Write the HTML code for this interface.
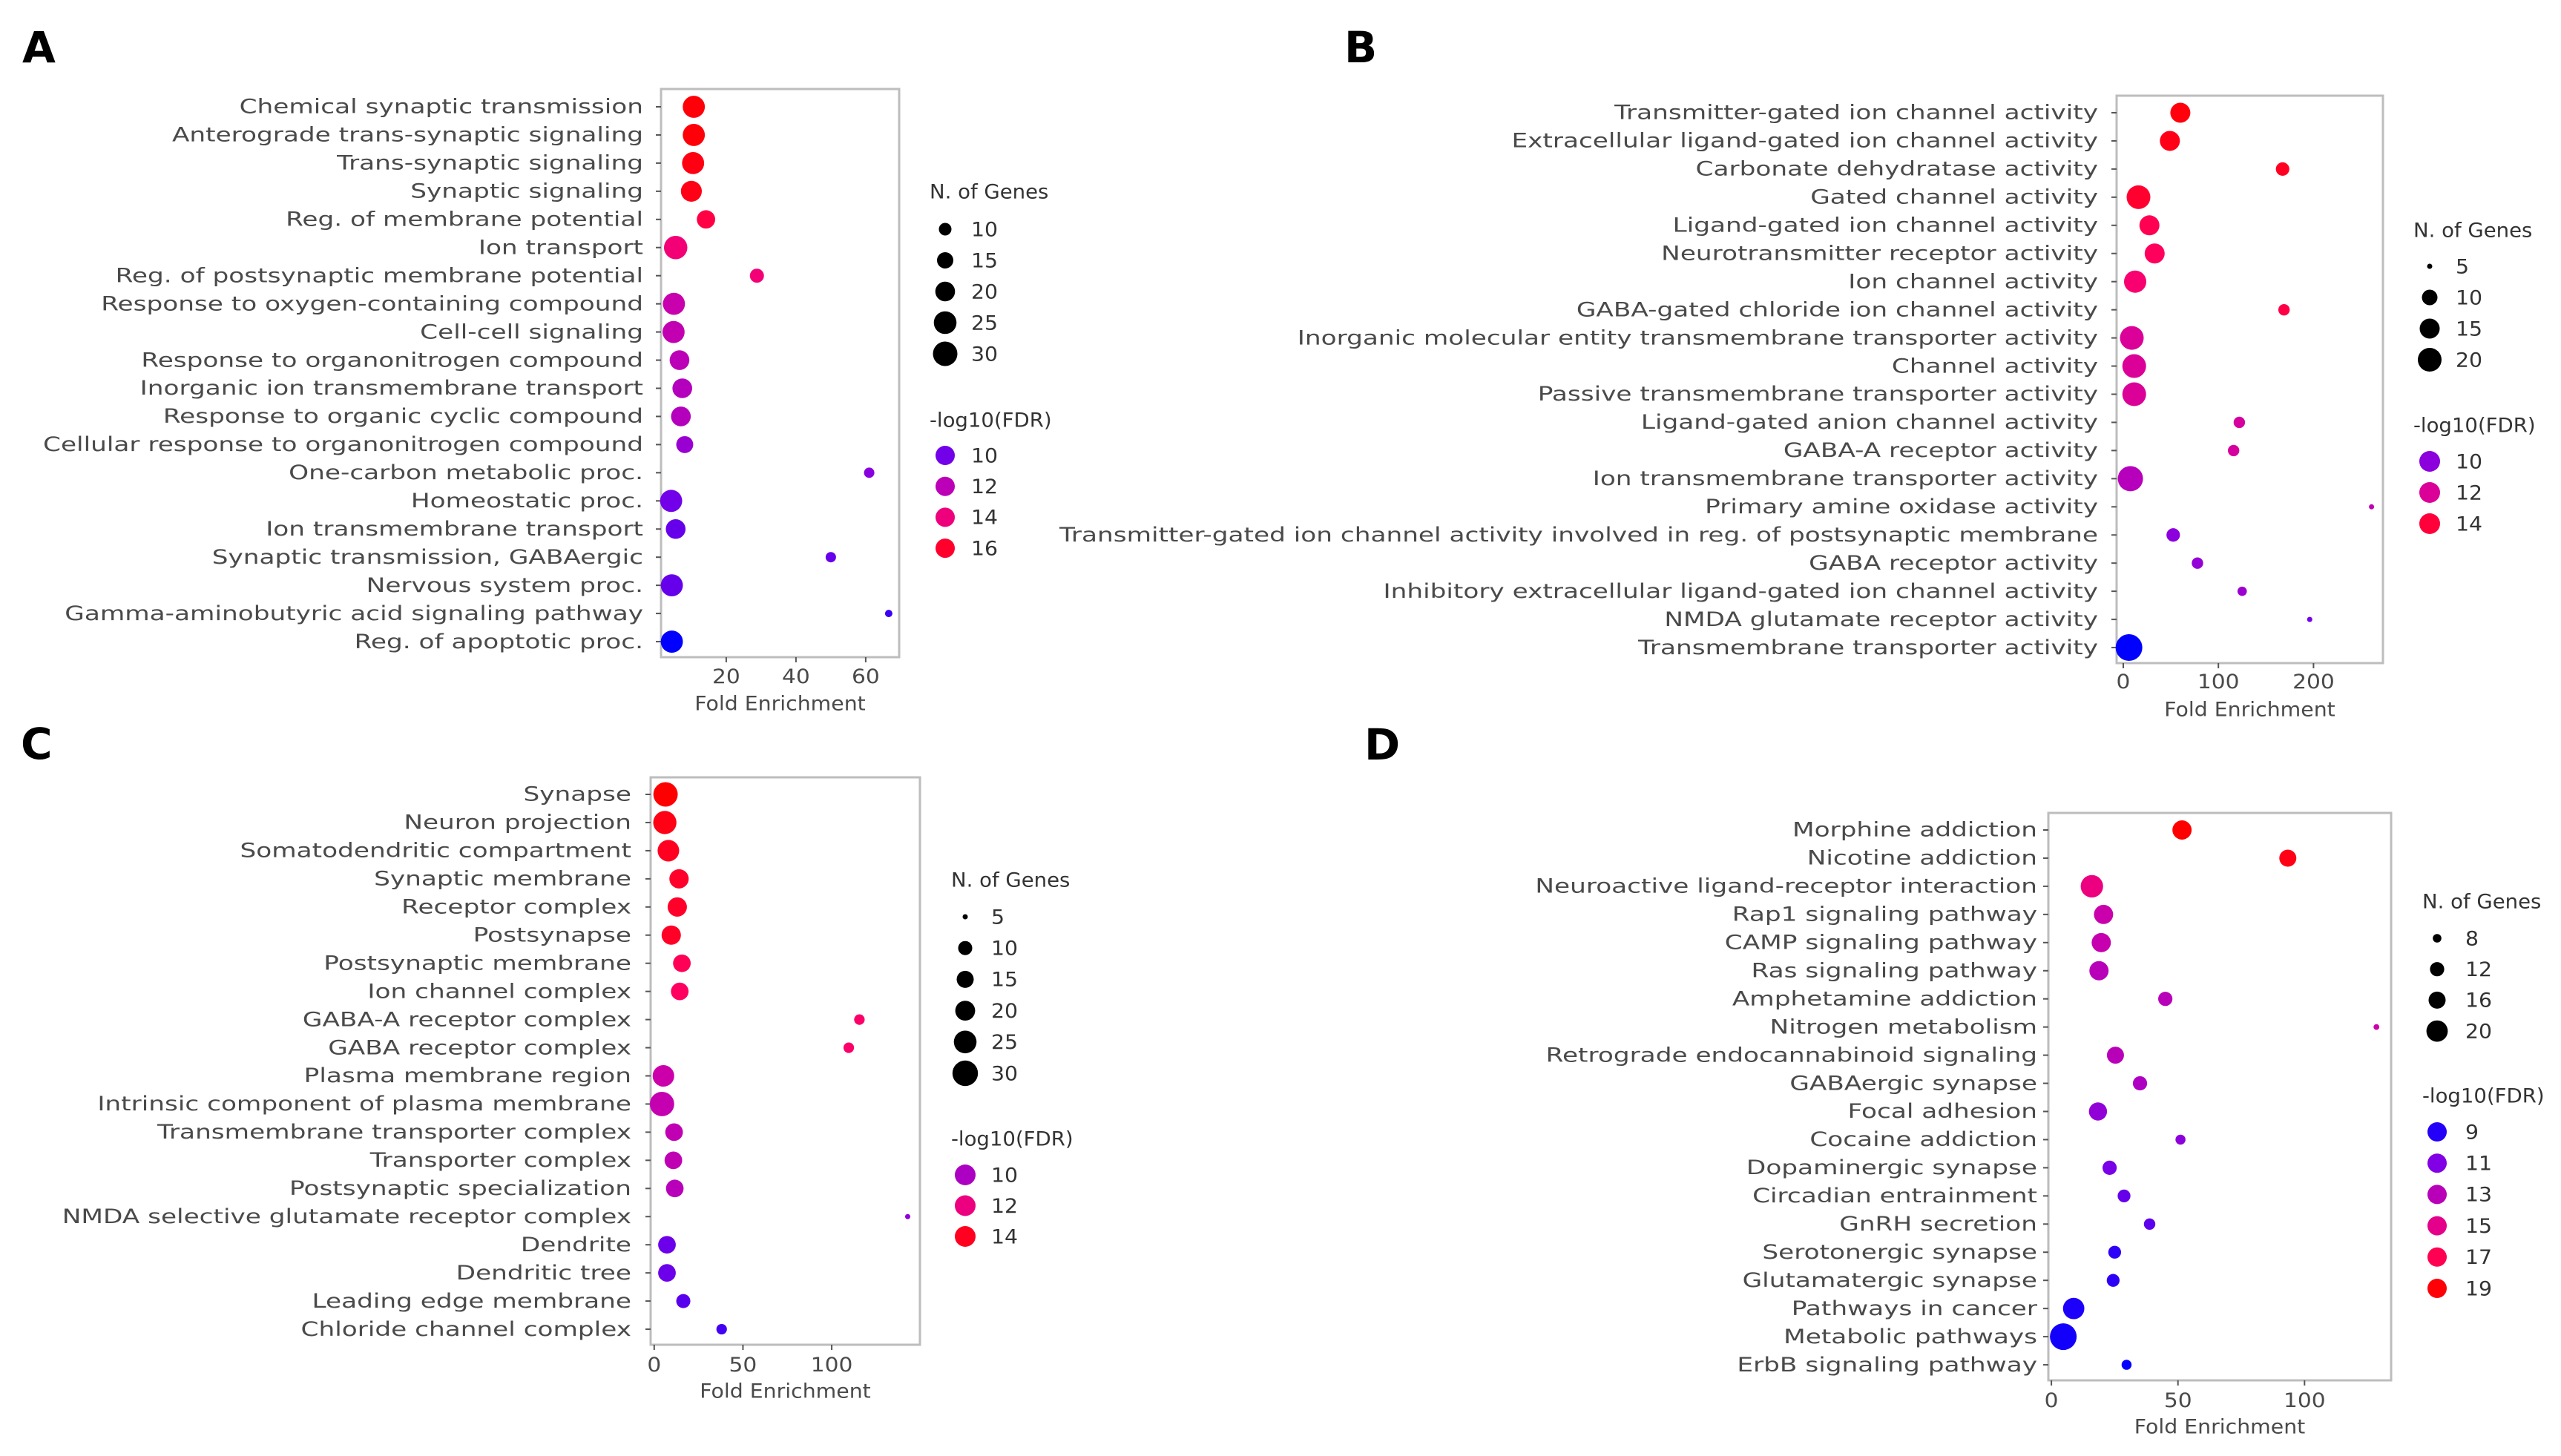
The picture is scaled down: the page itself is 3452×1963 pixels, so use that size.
<!DOCTYPE html>
<html><head><meta charset="utf-8"><style>
html,body{margin:0;padding:0;background:#fff;}
svg{display:block;}
text{font-family:"DejaVu Sans","Liberation Sans",sans-serif;}
</style></head><body>
<svg id="fig" width="3452" height="1963" viewBox="0 0 3452 1963" xmlns="http://www.w3.org/2000/svg"></svg>
<script>
// ---------- Panel A data ----------
const catsA = ["Chemical synaptic transmission","Anterograde trans-synaptic signaling","Trans-synaptic signaling","Synaptic signaling","Reg. of membrane potential","Ion transport","Reg. of postsynaptic membrane potential","Response to oxygen-containing compound","Cell-cell signaling","Response to organonitrogen compound","Inorganic ion transmembrane transport","Response to organic cyclic compound","Cellular response to organonitrogen compound","One-carbon metabolic proc.","Homeostatic proc.","Ion transmembrane transport","Synaptic transmission, GABAergic","Nervous system proc.","Gamma-aminobutyric acid signaling pathway","Reg. of apoptotic proc."];
const feA = [10.7,10.7,10.5,10,14.2,5.5,28.8,5,4.9,6.6,7.4,7,8.1,61,4.2,5.5,50,4.4,66.6,4.4];
const genesA = [24,24,24,22,18,27,12,24,24,20,20,20,16,7,24,20,7,24,3,24];
const fdrA = [16.8,16.8,16.6,16.5,15.5,14.2,14.2,12.4,12.2,12,11.8,11.8,11,10.5,10,9.8,9.8,9.8,9,8];
const xticksA = [20,40,60];
const sizeLegA = [10,15,20,25,30];
const colorLegA = [10,12,14,16];
// ---------- Panel B data ----------
const catsB = ["Transmitter-gated ion channel activity","Extracellular ligand-gated ion channel activity","Carbonate dehydratase activity","Gated channel activity","Ligand-gated ion channel activity","Neurotransmitter receptor activity","Ion channel activity","GABA-gated chloride ion channel activity","Inorganic molecular entity transmembrane transporter activity","Channel activity","Passive transmembrane transporter activity","Ligand-gated anion channel activity","GABA-A receptor activity","Ion transmembrane transporter activity","Primary amine oxidase activity","Transmitter-gated ion channel activity involved in reg. of postsynaptic membrane","GABA receptor activity","Inhibitory extracellular ligand-gated ion channel activity","NMDA glutamate receptor activity","Transmembrane transporter activity"];
const feB = [60,49,167.5,16,27.5,33,12.5,169,9,11.5,11.5,122,116,7.5,261,52.5,78,125,196,6];
const genesB = [15,15,9,20,15,15,18,8,20,20,20,8,8,22,5,9,8,7,5,24];
const fdrB = [14.8,14.6,14.4,14.2,13.6,13.4,13,13.8,12,12,12,11.8,11.8,11,11.2,10,10.2,10.4,9.6,8];
const xticksB = [0,100,200];
const sizeLegB = [5,10,15,20];
const colorLegB = [10,12,14];
// ---------- Panel C data ----------
const catsC = ["Synapse","Neuron projection","Somatodendritic compartment","Synaptic membrane","Receptor complex","Postsynapse","Postsynaptic membrane","Ion channel complex","GABA-A receptor complex","GABA receptor complex","Plasma membrane region","Intrinsic component of plasma membrane","Transmembrane transporter complex","Transporter complex","Postsynaptic specialization","NMDA selective glutamate receptor complex","Dendrite","Dendritic tree","Leading edge membrane","Chloride channel complex"];
const feC = [6.4,6,8,14,13,9.6,15.6,14.4,115.6,109.6,5.2,4.4,11.2,10.8,11.6,142.8,7.2,7.2,16.4,38];
const genesC = [28,26,23,19,19,19,16,16,8,8,23,28,16,16,16,5,16,16,10,8];
const fdrC = [14.6,14.2,14,13.8,13.8,13.9,13,12.8,12.6,12.6,10.8,10.6,10.5,10.5,10.3,9.2,8.6,8.6,8.3,8];
const xticksC = [0,50,100];
const sizeLegC = [5,10,15,20,25,30];
const colorLegC = [10,12,14];
// ---------- Panel D data ----------
const catsD = ["Morphine addiction","Nicotine addiction","Neuroactive ligand-receptor interaction","Rap1 signaling pathway","CAMP signaling pathway","Ras signaling pathway","Amphetamine addiction","Nitrogen metabolism","Retrograde endocannabinoid signaling","GABAergic synapse","Focal adhesion","Cocaine addiction","Dopaminergic synapse","Circadian entrainment","GnRH secretion","Serotonergic synapse","Glutamatergic synapse","Pathways in cancer","Metabolic pathways","ErbB signaling pathway"];
const feD = [51.6,93.4,16,20.6,19.7,18.8,45,128.4,25.3,35,18.4,51,23,28.7,38.8,25,24.4,8.8,4.7,29.7];
const genesD = [18,16,21,18,18,18,12,6,16,12,17,9,12,11,10,11,11,20,25,9];
const fdrD = [19.2,18.6,15.4,13.6,13.5,13,13,13.8,13,12.6,11.6,11.4,10.8,10.4,10.2,9.2,9.2,8.8,8.6,8.3];
const xticksD = [0,50,100];
const sizeLegD = [8,12,16,20];
const colorLegD = [9,11,13,15,17,19];

const NS = "http://www.w3.org/2000/svg";
const svg = document.getElementById('fig');
function mk(tag, attrs, parent){const e=document.createElementNS(NS,tag);for(const k in attrs)e.setAttribute(k,attrs[k]);(parent||svg).appendChild(e);return e;}

const stops=[[0,[0,0,255]],[0.25,[128,0,230]],[0.5,[204,0,170]],[0.75,[255,0,102]],[1,[255,0,0]]];
function cmap(t){t=Math.max(0,Math.min(1,t));for(let i=1;i<stops.length;i++){if(t<=stops[i][0]){const a=stops[i-1],b=stops[i];const u=(t-a[0])/(b[0]-a[0]);const c=a[1].map((v,j)=>Math.round(v+(b[1][j]-v)*u));return `rgb(${c[0]},${c[1]},${c[2]})`;}}return 'rgb(255,0,0)';}
function interp(xs,ys,v){if(v<=xs[0])return Math.max(2,ys[0]+(v-xs[0])*(ys[1]-ys[0])/(xs[1]-xs[0]));for(let i=1;i<xs.length;i++){if(v<=xs[i])return ys[i-1]+(v-xs[i-1])*(ys[i]-ys[i-1])/(xs[i]-xs[i-1]);}const n=xs.length;return ys[n-1]+(v-xs[n-1])*(ys[n-1]-ys[n-2])/(xs[n-1]-xs[n-2]);}

function txt(parent,x,y,s,opts){const t=mk('text',{transform:`translate(${x},${y}) scale(${opts.sx||1.27},1)`,'text-anchor':opts.anchor||'start','dominant-baseline':'central','font-size':opts.size||27,fill:opts.fill||'#4a4a4a'},parent);t.textContent=s;return t;}

function panel(cfg){
  const g=mk('g',{});
  
  
  const L=mk('text',{x:cfg.letter[0],y:cfg.letter[1],'font-size':58,'font-weight':'bold',fill:'#000','font-family':'Liberation Sans, sans-serif'},g);
  L.textContent=cfg.id;
  
  
  const xs=v=>cfg.box[0]+(v-cfg.xmin)/(cfg.xmax-cfg.xmin)*(cfg.box[2]-cfg.box[0]);
  const ys=i=>cfg.y0+i*cfg.step;
  const rad=n=>interp(cfg.legVals,cfg.legR,n);
  const col=v=>cmap((v-cfg.vmin)/(cfg.vmax-cfg.vmin));
  const frame=mk('rect',{x:cfg.box[0],y:cfg.box[1],width:cfg.box[2]-cfg.box[0],height:cfg.box[3]-cfg.box[1],fill:'none',stroke:'#bdbdbd','stroke-width':3},g);
  
  
  cfg.cats.forEach((c,i)=>{
    mk('line',{x1:cfg.box[0]-7,x2:cfg.box[0],y1:ys(i),y2:ys(i),stroke:'#555','stroke-width':2},g);
    const t=txt(g,cfg.box[0]-cfg.gap,ys(i),c,{anchor:'end'});
    
    
  });
  cfg.ticks.forEach(v=>{
    mk('line',{x1:xs(v),x2:xs(v),y1:cfg.box[3],y2:cfg.box[3]+7,stroke:'#555','stroke-width':2},g);
    const t=txt(g,xs(v),cfg.tickY,String(v),{anchor:'middle',sx:1.1});
    
    
  });
  const xl=txt(g,(cfg.box[0]+cfg.box[2])/2,cfg.xlabY,'Fold Enrichment',{anchor:'middle',sx:1.05});
  
  
  cfg.fe.forEach((v,i)=>{
    const c=mk('circle',{cx:xs(v),cy:ys(i),r:rad(cfg.genes[i]),fill:col(cfg.fdr[i])},g);
    
    
  });
  const t1=txt(g,cfg.leg[0],cfg.sizeTitleY,'N. of Genes',{fill:'#333',sx:1.02});
  
  
  cfg.sizeVals.forEach((v,i)=>{
    const y=cfg.sizeY0+i*cfg.sizeStep;
    const c=mk('circle',{cx:cfg.leg[1],cy:y,r:rad(v),fill:'#000'},g);
    
    
    const t=txt(g,cfg.leg[2],y,String(v),{fill:'#333',sx:1.05});
    
    
  });
  const t2=txt(g,cfg.leg[0],cfg.colTitleY,'-log10(FDR)',{fill:'#333',sx:1.02});
  
  
  cfg.colVals.forEach((v,i)=>{
    const y=cfg.colY0+i*cfg.colStep;
    const c=mk('circle',{cx:cfg.leg[1],cy:y,r:cfg.colR,fill:col(v)},g);
    
    
    const t=txt(g,cfg.leg[2],y,String(v),{fill:'#333',sx:1.05});
    
    
  });
}

panel({id:'A',letter:[30,84],cats:catsA,fe:feA,genes:genesA,fdr:fdrA,ticks:xticksA,sizeVals:sizeLegA,colVals:colorLegA,
  box:[891,120,1212,886],xmin:1.3,xmax:69.6,y0:144,step:37.95,gap:24,tickY:912,xlabY:948,
  legVals:[10,15,20,25,30],legR:[8.5,11,13.3,15.3,16.5],vmin:8,vmax:17,
  leg:[1253,1274,1309],sizeTitleY:259,sizeY0:309,sizeStep:42,colTitleY:567,colY0:614,colStep:41.7,colR:13});
panel({id:'B',letter:[1812,84],cats:catsB,fe:feB,genes:genesB,fdr:fdrB,ticks:xticksB,sizeVals:sizeLegB,colVals:colorLegB,
  box:[2853,129,3212,894],xmin:-7,xmax:273,y0:152,step:37.95,gap:25,tickY:919,xlabY:956,
  legVals:[5,10,15,20],legR:[3.5,10.5,13.5,16],vmin:8,vmax:15,
  leg:[3253,3275,3310],sizeTitleY:311,sizeY0:359,sizeStep:42,colTitleY:574,colY0:622,colStep:42,colR:14});
panel({id:'C',letter:[28,1023],cats:catsC,fe:feC,genes:genesC,fdr:fdrC,ticks:xticksC,sizeVals:sizeLegC,colVals:colorLegC,
  box:[877,1048,1240,1813],xmin:-2,xmax:149.7,y0:1071,step:37.95,gap:26,tickY:1840,xlabY:1875,
  legVals:[5,10,15,20,25,30],legR:[3.5,9.5,11.5,13.4,15.3,17.2],vmin:7,vmax:14.6,
  leg:[1282,1301,1336],sizeTitleY:1187,sizeY0:1236,sizeStep:42.2,colTitleY:1536,colY0:1584,colStep:41.5,colR:14});
panel({id:'D',letter:[1839,1024],cats:catsD,fe:feD,genes:genesD,fdr:fdrD,ticks:xticksD,sizeVals:sizeLegD,colVals:colorLegD,
  box:[2761,1096,3223,1861],xmin:-1.2,xmax:134.2,y0:1119,step:37.95,gap:15,tickY:1888,xlabY:1923,
  legVals:[8,12,16,20],legR:[5.8,9.6,11.5,14.4],vmin:8.2,vmax:19.2,
  leg:[3265,3285,3323],sizeTitleY:1216,sizeY0:1265,sizeStep:41.7,colTitleY:1478,colY0:1526,colStep:42.2,colR:13});
</script>
</body></html>
